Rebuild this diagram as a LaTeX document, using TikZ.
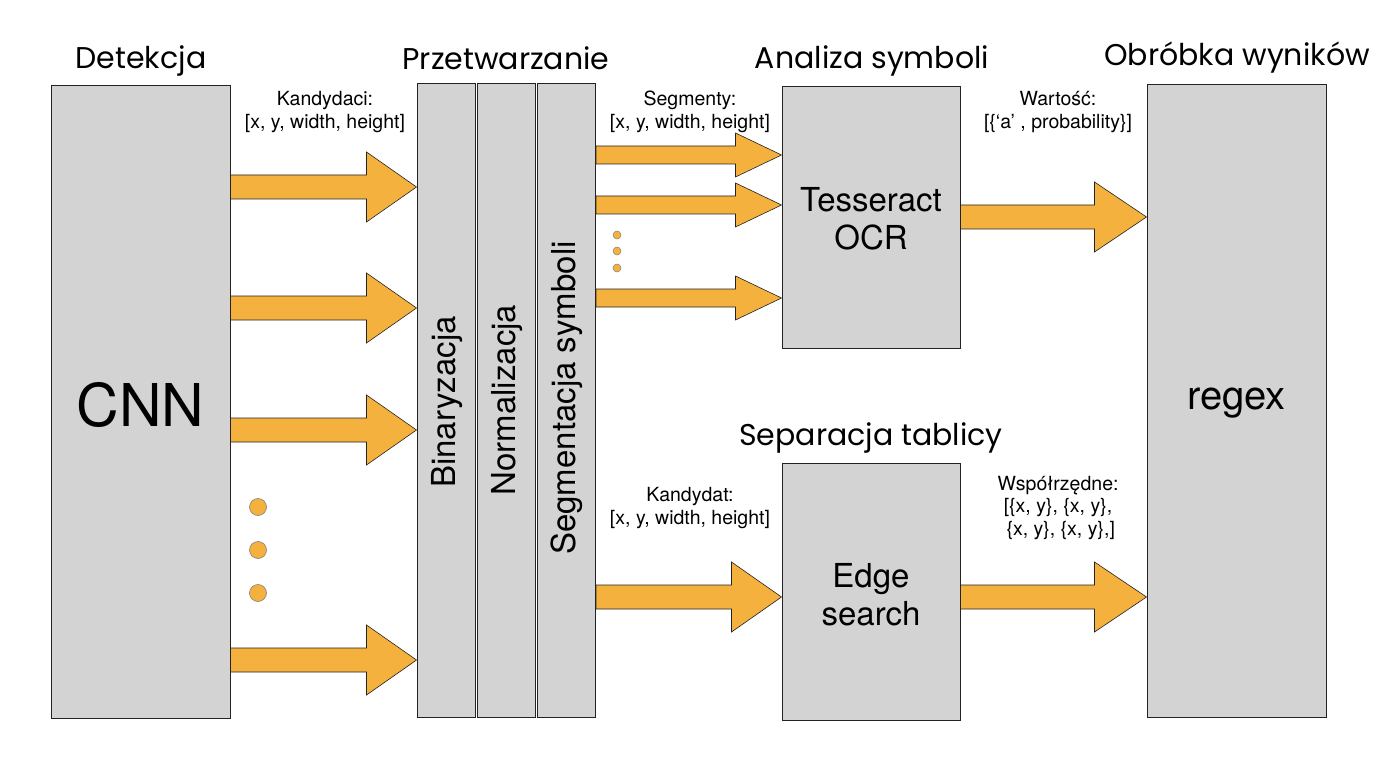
\documentclass[tikz,border=0pt]{standalone}
\usepackage{fontspec}
\setmainfont{TeX Gyre Heros}
\newfontfamily\titlefont{Poppins}
\usetikzlibrary{calc}
\definecolor{boxgray}{RGB}{211, 211, 211}
\definecolor{amber}{RGB}{244, 177, 62}
\definecolor{rim}{RGB}{35, 35, 35}

% block arrow: from node, to node, y, shaft half, head half, head length
\newcommand{\fatarrow}[6]{%
  \draw[arrowbody] let \p1=(#1.east |- 0,#3), \p2=(#2.west |- 0,#3) in
    (\x1, \y1+#4pt) -- (\x2-#6pt, \y1+#4pt) -- (\x2-#6pt, \y1+#5pt) -- (\x2, \y1)
    -- (\x2-#6pt, \y1-#5pt) -- (\x2-#6pt, \y1-#4pt) -- (\x1, \y1-#4pt) -- cycle;%
}

\begin{document}
\begin{tikzpicture}[x=1pt, y=-1pt,
   stage/.style={rectangle, draw=rim, fill=boxgray, line width=1, inner sep=0},
   title/.style={font=\titlefont\fontsize{30}{34}\selectfont, text=black},
   lbl/.style={font=\fontsize{19.5}{22.5}\selectfont, align=center, inner sep=0},
   boxtext/.style={font=\fontsize{33}{38}\selectfont, align=center},
   sidetext/.style={font=\fontsize{33}{38}\selectfont, rotate=90},
   arrowbody/.style={draw=rim, fill=amber, line width=0.6},
   bigdot/.style={circle, draw=gray, fill=amber, line width=0.6,
                  inner sep=0, minimum size=17pt},
   smalldot/.style={circle, draw=gray, fill=amber, line width=0.5,
                    inner sep=0, minimum size=8pt}
  ]

  \useasboundingbox[fill=white] (0, 0) rectangle (1400, 762);

  % stages
  \node (cnn) at (140.5, 402) [stage, minimum width=179pt, minimum height=632pt] {};
  \node (binar) at (446, 400.5) [stage, minimum width=58pt, minimum height=633pt] {};
  \node (norm) at (506.5, 400.5) [stage, minimum width=58pt, minimum height=633pt] {};
  \node (segm) at (566.5, 400.5) [stage, minimum width=58pt, minimum height=633pt] {};
  \node (tess) at (871, 217.5) [stage, minimum width=178pt, minimum height=261pt] {};
  \node (edge) at (871, 591.5) [stage, minimum width=178pt, minimum height=257pt] {};
  \node (regex) at (1236.5, 401) [stage, minimum width=179pt, minimum height=632pt] {};

  \node (cnntext) at (140.5, 405) [font=\fontsize{59}{64}\selectfont] {CNN};
  \node (regextext) at (1236.5, 403) [font=\fontsize{40}{44}\selectfont] {regex};
  \node (tesstext) at (871, 219) [boxtext] {Tesseract\\OCR};
  \node (edgetext) at (871, 595) [boxtext] {Edge\\search};
  \node (binartext) at (447, 402) [sidetext] {Binaryzacja};
  \node (normtext) at (507, 400) [sidetext] {Normalizacja};
  \node (segmtext) at (567, 398) [sidetext] {Segmentacja symboli};

  % titles
  \node (tdet) at (141, 61) [title] {Detekcja};
  \node (tproc) at (506, 58) [title] {Przetwarzanie};
  \node (tanal) at (872, 61) [title] {Analiza symboli};
  \node (tpost) at (1237, 58) [title] {Obróbka wyników};
  \node (tsep) at (871, 438) [title] {Separacja tablicy};

  % arrows
  \foreach \Y in {187, 308, 430, 660} {
    \fatarrow{cnn}{binar}{\Y}{12}{35}{50}
  }
  \foreach \Y in {155, 205, 298} {
    \fatarrow{segm}{tess}{\Y}{9}{22}{46}
  }
  \fatarrow{segm}{edge}{597}{12}{35}{50}
  \fatarrow{tess}{regex}{217}{12}{35}{52}
  \fatarrow{edge}{regex}{597}{12}{35}{52}

  \foreach \Y in {507, 550, 593} {
    \node (ldot\Y) at (258, \Y) [bigdot] {};
  }
  \foreach \Y in {235, 251, 268} {
    \node (sdot\Y) at (617, \Y) [smalldot] {};
  }

  % labels
  \node (lcand) at (325, 112) [lbl] {Kandydaci:\\{}[x, y, width, height]};
  \node (lsegm) at (690, 112) [lbl] {Segmenty:\\{}[x, y, width, height]};
  \node (lval) at (1058, 112) [lbl] {Wartość:\\{}[\{‘a’ , probability\}]};
  \node (lkand) at (690, 508) [lbl] {Kandydat:\\{}[x, y, width, height]};
  \node (lcoord) at (1058, 508) [lbl] {Współrzędne:\\{}[\{x, y\}, \{x, y\},\\\ \{x, y\}, \{x, y\},]};

\end{tikzpicture}
\end{document}
